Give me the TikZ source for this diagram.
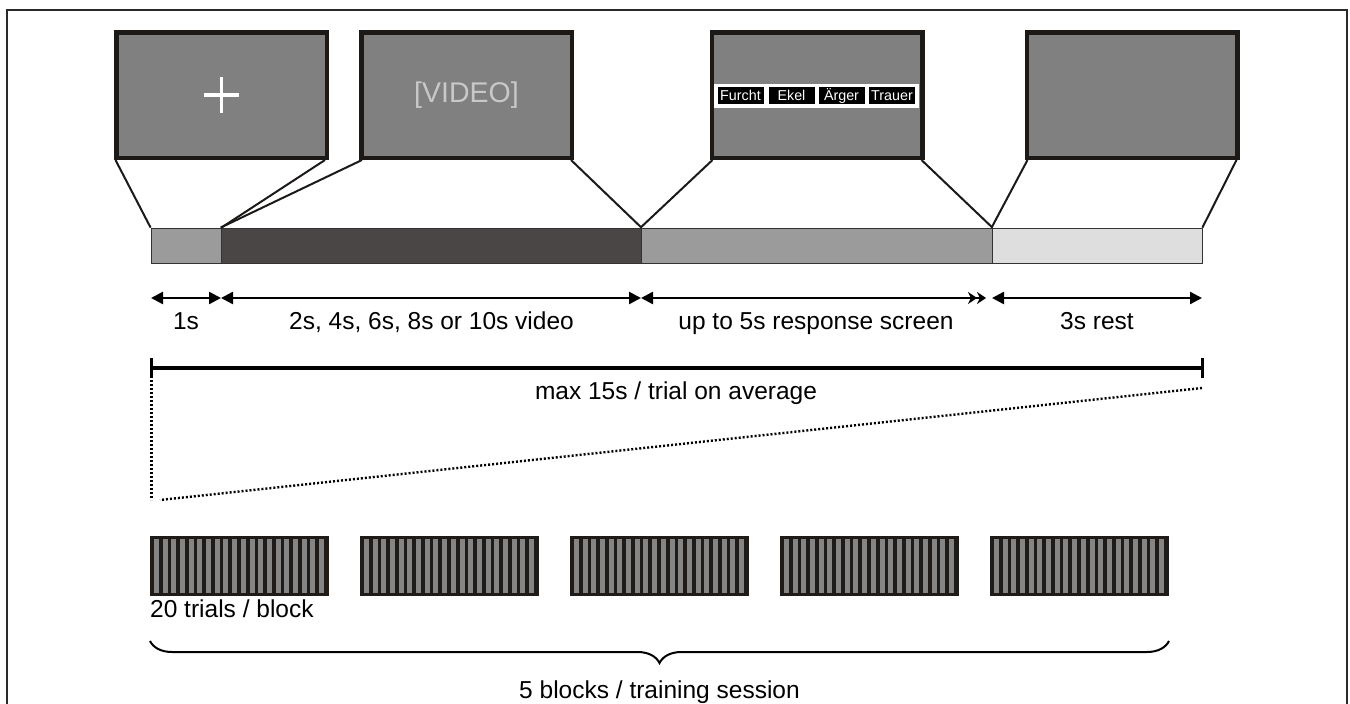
\documentclass[tikz,border=0pt]{standalone}
\usepackage{fontspec}
\setmainfont{Liberation Sans}
\usetikzlibrary{arrows.meta,calc,decorations.pathreplacing}
\definecolor{scrgray}{HTML}{808080}
\definecolor{scrborder}{HTML}{1C1917}
\definecolor{segA}{HTML}{9B9B9B}
\definecolor{segB}{HTML}{4A4646}
\definecolor{segD}{HTML}{DEDEDE}
\definecolor{blockdark}{HTML}{1F1B19}
\definecolor{stripegray}{HTML}{858585}
\definecolor{vidtext}{HTML}{C8C8C8}
\definecolor{framecol}{HTML}{2A2A2A}
\newcommand\labfont{\fontsize{24.5}{28}\selectfont}
\tikzset{
  screen/.style={draw=scrborder, fill=scrgray, line width=4.5pt, minimum width=210.5pt, minimum height=125.5pt, inner sep=0pt},
  seg/.style={draw=black!80, line width=0.8pt, minimum height=35pt, inner sep=0pt},
  conn/.style={line width=2pt, draw=scrborder},
  timearrow/.style={line width=2.5pt, {Triangle[length=12pt,width=12pt]}-{Triangle[length=12pt,width=12pt]}},
  lbl/.style={font=\labfont, inner sep=0pt, anchor=base},
  btn/.style={fill=black, text=white, font=\fontsize{14.3}{16}\selectfont, minimum width=46pt, minimum height=17pt, inner sep=0pt},
  blockbox/.style={fill=blockdark, minimum width=179pt, minimum height=60pt, inner sep=0pt},
  dotline/.style={line width=2.4pt, dash pattern=on 2pt off 2pt}
}
\begin{document}
\begin{tikzpicture}[x=1pt,y=-1pt]
\useasboundingbox (0,0) rectangle (1350,704);
% outer frame
\draw[framecol, line width=1.5pt] (7,720) -- (7,10) -- (1347,10) -- (1347,720);

% screens
\node[screen] (s1) at (221.5,95) {};
\node[screen] (s2) at (466.5,95) {};
\node[screen] (s3) at (817,95) {};
\node[screen] (s4) at (1132,95) {};

% cross
\draw[white, line width=3.8pt] ($(s1.center)+(-17.5,0)$) -- ($(s1.center)+(17.5,0)$);
\draw[white, line width=3.8pt] ($(s1.center)+(0,-18)$) -- ($(s1.center)+(0,18)$);

% video text
\node[text=vidtext, font=\fontsize{28.5}{32}\selectfont, inner sep=0pt] (vid) at (s2.center) {[VIDEO]};

% response buttons
\node[fill=white, minimum width=205pt, minimum height=24pt, inner sep=0pt] (resp) at (816.5,95.5) {};
\node[btn] (f1) at (740.5,95.5) {Furcht};
\node[btn] (f2) at (791.5,95.5) {Ekel};
\node[btn] (f3) at (841.5,95.5) {Ärger};
\node[btn] (f4) at (892,95.5) {Trauer};

% timeline segments
\node[seg, fill=segA, minimum width=70pt] (g1) at (186,245.5) {};
\node[seg, fill=segB, minimum width=420pt] (g2) at (431,245.5) {};
\node[seg, fill=segA, minimum width=351pt] (g3) at (816.5,245.5) {};
\node[seg, fill=segD, minimum width=210pt] (g4) at (1097,245.5) {};

% connectors screens -> timeline
\draw[conn] ($(s1.south west)+(1.5,0)$) -- (g1.north west);
\draw[conn] ($(s1.south east)+(-4,0)$) -- (g1.north east);
\draw[conn] ($(s2.south west)+(3,0)$) -- (g2.north west);
\draw[conn] ($(s2.south east)+(-3,0)$) -- (g2.north east);
\draw[conn] ($(s3.south west)+(3,0)$) -- (g3.north west);
\draw[conn] ($(s3.south east)+(-3,0)$) -- (g3.north east);
\draw[conn] ($(s4.south west)+(3,0)$) -- (g4.north west);
\draw[conn] ($(s4.south east)+(-3,0)$) -- (g4.north east);

% time arrows
\coordinate (t0) at (151,298);
\coordinate (t1) at (221,298);
\coordinate (t2) at (641,298);
\coordinate (t3) at (986,298);
\coordinate (t3b) at (992,298);
\coordinate (t4) at (1202,298);
\draw[timearrow] (t0) -- (t1);
\draw[timearrow] (t1) -- (t2);
\draw[line width=2.5pt, {Triangle[length=12pt,width=12pt]}-{Stealth[length=9pt,width=12pt,inset=3pt]Stealth[length=9pt,width=12pt,inset=3pt]}] (t2) -- (t3);
\draw[timearrow] (t3b) -- (t4);

\node[lbl] (l1) at (186,329) {1s};
\node[lbl] (l2) at (431.5,329) {2s, 4s, 6s, 8s or 10s video};
\node[lbl] (l3) at (816,329) {up to 5s response screen};
\node[lbl] (l4) at (1097,329) {3s rest};

% total trial bar
\coordinate (m0) at (151,368);
\coordinate (m1) at (1202,368);
\coordinate (m0t) at (151,358);
\coordinate (m0b) at (151,378);
\coordinate (m1t) at (1202,358);
\coordinate (m1b) at (1202,378);
\draw[line width=3.5pt] (m0) -- (m1);
\draw[line width=3pt] (m0t) -- (m0b);
\draw[line width=3pt] (m1t) -- (m1b);
\node[lbl] (lmax) at (676,399) {max 15s / trial on average};

% blocks
\foreach \k in {1,...,5} {
  \node[blockbox] (b\k) at ({239.5+210*(\k-1)},566) {};
  \foreach \i in {0,...,19}
    \fill[stripegray] ($(b\k.north west)+({4+\i*8.7},3)$) rectangle ++(5,54);
}

% dotted zoom lines
\coordinate (dv) at (151.5,380);
\coordinate (dv2) at (151.5,500);
\coordinate (dd) at (1202,388);
\coordinate (dd2) at (160,500);
\draw[dotline] (dv) -- (dv2);
\draw[dotline] (dd) -- (dd2);

\node[lbl, anchor=base west] (ltr) at (150,617) {20 trials / block};

% brace
\coordinate (br0) at (150,641);
\coordinate (br1) at (1169,641);
\draw[line width=2pt, decorate, decoration={brace, mirror, amplitude=22pt}] (br0) -- (br1);
\node[lbl] (lses) at (659.5,698.5) {5 blocks / training session};
\end{tikzpicture}
\end{document}
